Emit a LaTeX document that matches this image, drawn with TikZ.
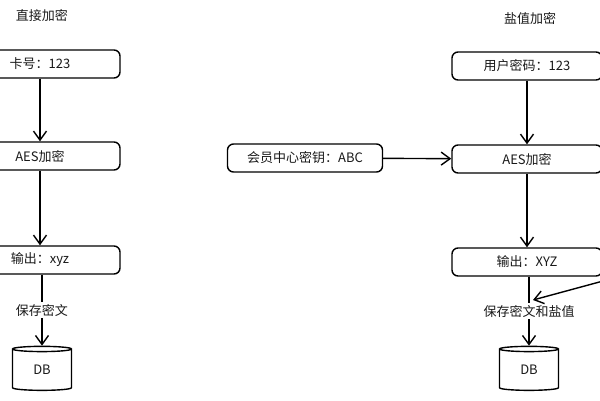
\documentclass[tikz,border=0pt]{standalone}
\usepackage{fontspec}
\setmainfont{Noto Sans CJK SC}
\usetikzlibrary{arrows.meta, shapes.geometric}

\tikzset{
	box/.style = {draw, line width = 1.4pt, rounded corners = 6pt, minimum height = 28pt, inner sep = 0pt},
	flow/.style = {line width = 1.4pt, -{Straight Barb[length=9pt, width=13pt]}},
	db/.style = {draw, line width = 1.4pt, cylinder, shape border rotate = 90, aspect = 0.3, minimum width = 59pt, minimum height = 44pt, inner sep = 0pt},
	lab/.style = {fill = white, inner sep = 2pt},
}

\begin{document}
\begin{tikzpicture}[x = 1pt, y = -1pt, font = \fontsize{13}{15}\selectfont, text = black!90]

\useasboundingbox (0, 0) rectangle (600, 400);
\clip (0, 0) rectangle (600, 400);

	% Direct encryption

	\node (direct) at (42, 16) {直接加密};

	\node [box, minimum width = 160pt] (card) at (40, 64) {卡号：123};
	\node [box, minimum width = 160pt] (aes1) at (40, 156) {AES加密};
	\node [box, minimum width = 160pt] (out1) at (40, 260) {输出：xyz};
	\node [db] (db1) at (42, 370) {DB};

	\draw [flow] (card) -- (aes1);
	\draw [flow] (aes1) -- (out1);
	\draw [flow] (out1.south -| db1) -- node [lab] (save1) {保存密文} (db1.top);

	% Salted encryption

	\node (salted) at (530, 18) {盐值加密};

	\node [box, minimum width = 150pt] (pwd) at (527, 66) {用户密码：123};
	\node [box, minimum width = 155pt] (key) at (305, 158) {会员中心密钥：ABC};
	\node [box, minimum width = 150pt] (aes2) at (527, 159) {AES加密};
	\node [box, minimum width = 150pt] (out2) at (527, 262) {输出：XYZ};
	\node [db] (db2) at (529, 370) {DB};

	\draw [flow] (pwd) -- (aes2);
	\draw [flow] (key) -- (aes2);
	\draw [flow] (aes2) -- (out2);
	\draw [flow] (out2.south -| db2) -- node [lab] (save2) {保存密文和盐值} (db2.top);

	% Salt from the right

	\coordinate (salt) at (640, 271);
	\coordinate (hit) at (533, 300);
	\draw [flow] (salt) -- (hit);

\end{tikzpicture}
\end{document}
